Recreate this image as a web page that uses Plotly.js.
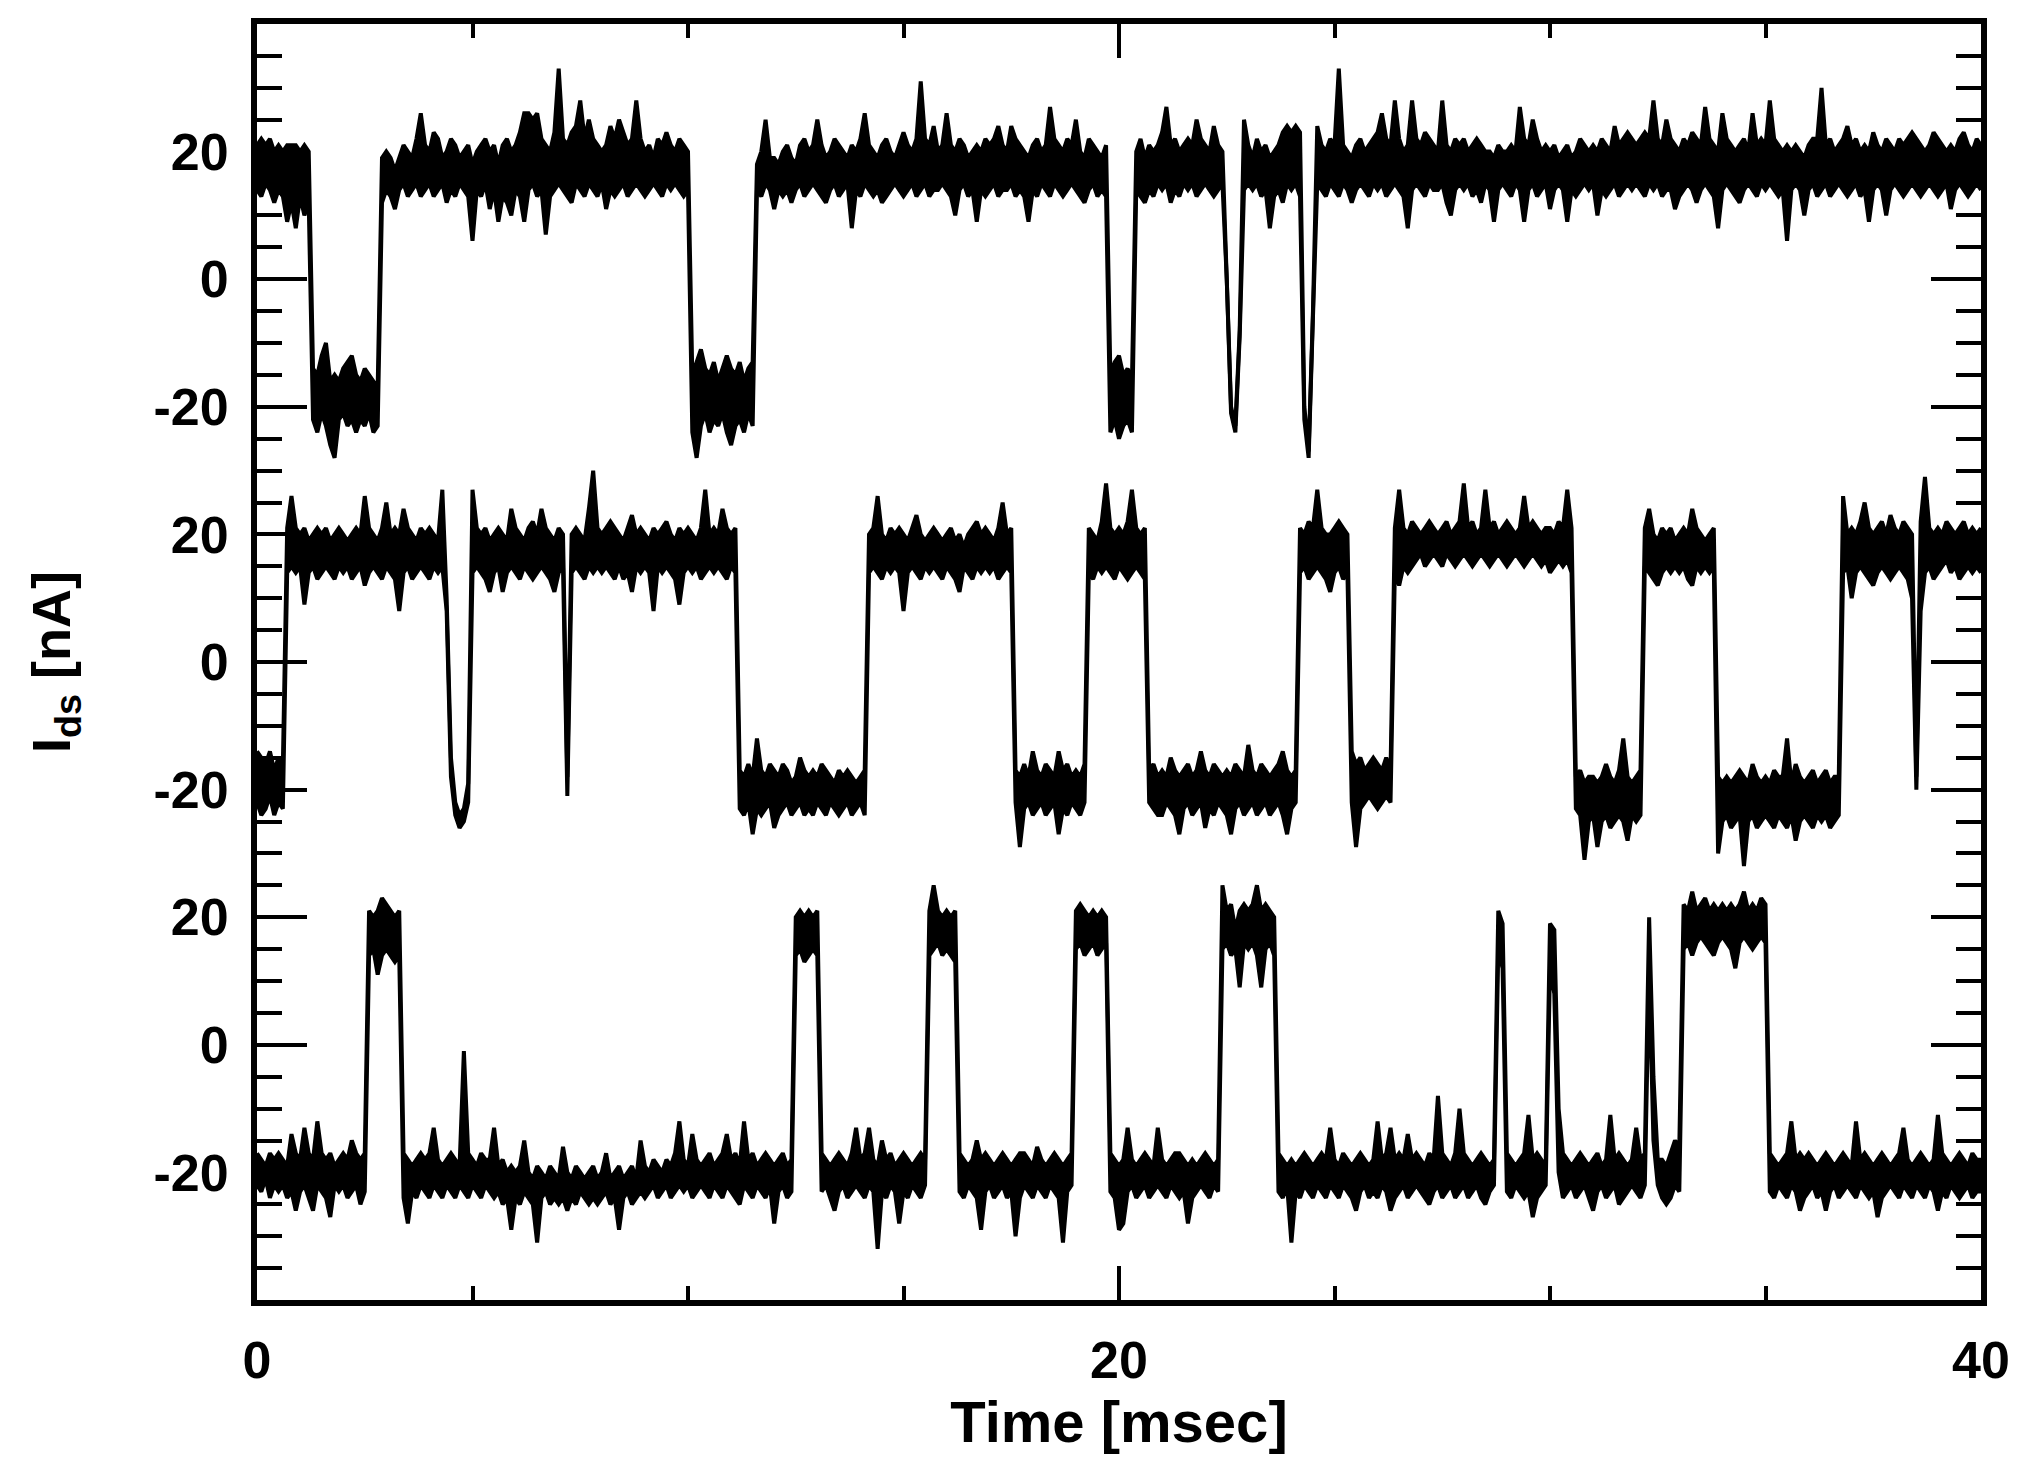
<!DOCTYPE html>
<html>
<head>
<meta charset="utf-8">
<script src="https://cdn.plot.ly/plotly-3.0.1.min.js"></script>
<style>html,body{margin:0;padding:0;background:#fff;}#chart{width:2044px;height:1480px;}</style>
</head>
<body>
<div id="chart"></div>
<script>
// Sampling of the traces (ms)
const sampleStartMs = 0;
const sampleStepMs = 0.1;

// Tick values / labels
const xTickVals = [0, 20, 40];
const xTickText = ['0', '20', '40'];
const yTickVals = [-20, 0, 20];
const yTickText = ['-20', '0', '20'];

// Top trace: upper and lower envelope of the noisy band (nA), one value per 0.1 ms
const topUpper = [
21,22,21,22,20,21,20,21,21,21,
20,21,20,-14,-15,-12,-10,-16,-15,-16,
-14,-13,-12,-15,-16,-14,-15,-16,-17,19,
20,19,17,19,21,20,19,22,26,21,
20,23,22,19,20,22,21,19,20,21,
18,20,21,22,20,21,18,21,22,20,
21,23,26,26,25,26,22,21,20,23,
33,22,21,23,24,28,22,25,22,21,
20,21,24,22,25,23,21,22,28,22,
20,21,19,22,21,23,21,20,22,21,
20,-15,-13,-11,-14,-15,-13,-16,-14,-12,
-14,-15,-13,-16,-14,-13,18,20,25,19,
19,18,20,21,19,18,21,22,20,21,
25,21,19,20,22,21,20,19,21,20,
22,26,21,20,19,21,22,20,19,21,
23,21,20,22,31,22,21,24,20,21,
26,21,20,22,21,19,20,21,20,22,
21,22,24,21,20,24,22,21,20,19,
21,22,20,21,27,22,21,20,22,21,
25,20,19,22,21,20,19,21,-15,-13,
-12,-15,-14,-16,20,22,19,21,20,21,
23,27,21,22,20,21,22,21,25,22,
21,20,24,21,20,0,-20,-23,-8,25,
21,19,22,20,21,19,20,21,23,24,
23,24,23,-20,-27,-5,24,21,20,22,
21,33,21,20,19,21,22,20,21,22,
23,26,22,21,28,22,20,21,28,22,
21,23,22,21,20,28,21,20,22,21,
22,20,21,22,21,20,20,19,21,20,
20,21,20,27,22,21,25,22,20,21,
20,21,19,20,21,19,20,22,21,20,
21,20,22,21,20,24,21,22,23,22,
21,22,23,22,28,22,21,25,22,21,
20,22,21,23,22,21,27,22,21,20,
26,22,21,20,21,22,20,26,21,22,
21,28,22,21,20,21,20,21,20,19,
21,22,22,30,21,22,20,21,22,24,
21,22,20,21,20,23,21,20,22,21,
20,22,21,22,23,22,21,20,21,23,
22,21,20,21,20,22,23,21,20,22,
21];
const topLower = [
14,13,15,14,12,14,13,9,12,8,
13,10,12,-22,-24,-21,-23,-26,-28,-22,
-21,-23,-22,-24,-22,-23,-21,-24,-23,12,
14,13,11,14,15,13,14,15,13,14,
15,13,14,15,12,14,13,15,14,13,
6,14,13,15,11,14,9,13,12,10,
14,13,9,14,15,13,14,7,13,14,
15,14,13,12,15,14,13,15,14,13,
15,11,14,13,14,15,13,14,15,14,
13,14,15,14,13,15,14,15,14,13,
14,-24,-28,-23,-21,-24,-22,-23,-21,-24,
-26,-23,-22,-24,-21,-23,14,13,15,14,
11,14,13,14,12,14,15,13,14,15,
14,13,12,14,15,13,14,15,8,14,
13,15,14,13,14,12,13,14,15,14,
13,14,15,13,14,15,13,14,14,15,
14,13,10,14,15,13,14,9,14,13,
14,15,13,14,14,15,13,14,13,9,
14,13,15,14,13,15,14,13,14,15,
14,13,12,14,15,13,14,13,-24,-22,
-25,-23,-22,-24,14,13,12,14,13,15,
14,15,12,14,13,15,14,15,13,14,
15,14,13,14,15,0,-21,-24,-9,14,
15,14,15,13,14,8,13,14,12,15,
14,15,13,-22,-28,-6,15,14,13,15,
14,13,15,14,12,14,15,14,13,15,
14,15,13,14,15,14,13,8,14,15,
14,13,15,14,14,15,12,10,14,15,
14,15,13,14,12,15,14,9,14,15,
14,13,15,14,9,14,15,13,14,15,
11,14,15,14,9,14,13,14,15,14,
15,10,14,13,14,15,13,14,15,14,
15,14,13,15,14,15,13,14,14,11,
13,14,15,14,12,14,15,14,13,8,
14,15,14,13,12,14,15,14,13,15,
14,15,14,13,14,6,14,15,14,10,
14,15,13,14,15,13,14,15,14,13,
14,15,13,14,9,14,15,14,10,14,
15,14,13,14,15,14,13,14,15,14,
13,14,15,11,14,15,14,13,14,15,
14];

// Middle trace
const midUpper = [
-14,-15,-16,-14,-17,-15,-16,21,26,21,
20,21,19,20,21,20,21,19,20,21,
20,19,20,21,20,26,21,20,19,21,
25,20,21,20,24,21,20,19,21,20,
21,20,19,27,10,-15,-22,-24,-23,-19,
27,21,20,21,19,20,21,20,19,24,
21,20,19,21,22,20,24,21,20,19,
21,20,-18,20,21,20,19,24,30,21,
20,21,22,21,20,19,21,23,20,21,
20,19,21,20,21,22,20,19,21,20,
21,20,19,21,27,20,21,20,24,21,
20,21,-17,-18,-16,-18,-12,-17,-18,-16,
-17,-18,-16,-17,-19,-18,-15,-17,-18,-17,
-18,-16,-17,-18,-19,-17,-18,-17,-18,-19,
-18,-17,20,21,26,20,19,21,20,21,
20,19,21,23,20,19,20,21,20,19,
20,21,19,20,18,20,21,22,20,21,
20,19,21,25,20,21,-17,-18,-16,-18,
-14,-17,-18,-16,-17,-18,-14,-17,-16,-18,
-17,-18,-16,21,20,19,22,28,21,20,
21,20,22,27,21,20,21,-17,-16,-18,
-17,-18,-15,-17,-18,-17,-16,-18,-17,-14,
-17,-18,-16,-17,-18,-17,-18,-16,-17,-18,
-13,-17,-18,-16,-17,-18,-17,-16,-14,-17,
-18,-17,21,20,22,21,27,21,20,20,
21,22,21,20,-14,-16,-15,-17,-16,-15,
-16,-17,-15,-17,21,27,21,20,22,21,
20,21,22,21,20,21,22,20,21,22,
28,21,22,20,21,27,21,22,20,21,
22,21,20,21,26,21,22,21,20,21,
21,20,22,21,27,21,-18,-17,-19,-18,
-18,-19,-18,-16,-18,-19,-17,-12,-18,-19,
-18,-17,21,24,20,19,21,20,21,19,
20,21,20,24,21,20,19,20,21,-18,
-19,-18,-19,-18,-17,-18,-19,-16,-18,-19,
-18,-19,-17,-18,-18,-12,-19,-16,-18,-19,
-18,-17,-19,-18,-17,-19,-18,-18,26,20,
21,20,22,25,21,20,21,22,20,23,
21,20,22,21,20,-18,22,29,21,20,
21,20,22,21,20,21,22,20,21,20,
21];
const midLower = [
-22,-24,-23,-21,-24,-22,-23,14,15,14,
15,9,14,15,13,14,15,14,13,15,
14,15,13,14,15,12,14,15,14,13,
15,14,13,8,14,15,13,14,15,14,
13,15,14,15,8,-18,-24,-26,-25,-22,
14,15,14,13,11,14,15,11,14,15,
14,13,15,14,13,14,15,14,13,11,
14,15,-21,14,15,14,13,15,14,15,
14,15,14,13,15,13,14,11,15,14,
15,14,8,15,14,15,14,13,9,14,
15,14,15,13,14,15,14,15,14,13,
15,14,-23,-24,-22,-27,-23,-24,-23,-22,
-26,-24,-23,-22,-24,-23,-22,-24,-23,-24,
-22,-23,-24,-22,-23,-24,-23,-22,-24,-23,
-22,-24,14,15,14,13,15,14,15,14,
8,14,15,14,13,15,14,15,14,13,
15,14,13,11,15,14,13,15,14,15,
14,15,13,14,15,14,-22,-29,-23,-22,
-24,-23,-22,-24,-23,-22,-27,-23,-24,-22,
-23,-24,-22,14,13,15,14,15,14,13,
15,14,13,14,15,14,13,-22,-23,-24,
-24,-22,-23,-24,-27,-23,-22,-24,-23,-22,
-26,-23,-24,-22,-23,-24,-27,-23,-22,-24,
-23,-22,-24,-23,-22,-24,-23,-22,-24,-27,
-23,-22,14,15,13,14,15,14,13,11,
14,15,13,14,-22,-29,-23,-22,-21,-22,
-23,-22,-21,-22,14,12,15,14,15,16,
17,15,16,17,16,15,17,16,15,16,
17,16,15,16,17,16,15,16,17,16,
15,16,17,16,15,16,17,16,15,16,
14,15,16,15,16,14,-23,-24,-31,-25,
-24,-29,-25,-24,-26,-25,-24,-25,-28,-24,
-25,-24,15,14,13,12,14,15,14,15,
14,15,13,12,15,14,15,14,15,-30,
-25,-24,-26,-25,-24,-32,-25,-24,-26,-25,
-24,-25,-26,-24,-25,-26,-24,-28,-25,-24,
-25,-26,-24,-25,-24,-26,-25,-24,14,15,
10,14,15,14,13,12,14,15,14,13,
14,15,14,13,10,-20,8,14,15,13,
14,15,16,14,15,13,14,15,14,15,
14];

// Bottom trace
const botUpper = [
-17,-18,-19,-17,-18,-17,-18,-19,-14,-17,
-18,-13,-17,-18,-12,-17,-18,-17,-19,-18,
-17,-18,-15,-17,-18,-17,21,20,21,23,
22,21,20,21,-17,-18,-19,-18,-17,-18,
-17,-13,-18,-19,-18,-17,-18,-19,-1,-17,
-18,-19,-17,-18,-18,-13,-19,-18,-20,-19,
-20,-19,-15,-20,-21,-19,-20,-21,-19,-20,
-21,-16,-20,-21,-19,-20,-21,-20,-19,-21,
-20,-17,-21,-20,-19,-21,-20,-19,-21,-15,
-19,-20,-18,-19,-20,-18,-19,-17,-12,-18,
-19,-14,-18,-19,-18,-17,-19,-18,-17,-14,
-18,-17,-19,-12,-18,-17,-19,-18,-17,-18,
-19,-18,-17,-19,-18,20,21,20,21,20,
21,-17,-18,-19,-18,-17,-18,-19,-17,-13,
-18,-17,-13,-18,-19,-15,-18,-17,-19,-18,
-17,-18,-19,-18,-17,-18,21,25,21,20,
21,20,21,-17,-18,-19,-18,-15,-18,-17,
-18,-19,-18,-17,-18,-19,-18,-17,-17,-18,
-19,-16,-18,-19,-18,-17,-18,-19,-18,-17,
21,22,21,20,21,20,21,20,-17,-18,
-19,-18,-13,-18,-19,-18,-17,-18,-19,-13,
-18,-19,-18,-17,-17,-18,-19,-18,-19,-18,
-17,-18,-19,-18,25,21,22,18,21,22,
21,22,25,21,22,21,20,-17,-18,-19,
-18,-19,-18,-17,-18,-19,-18,-17,-18,-13,
-18,-19,-17,-18,-19,-18,-17,-18,-19,-18,
-12,-18,-17,-13,-18,-17,-18,-14,-18,-17,
-18,-19,-17,-18,-8,-17,-18,-19,-17,-10,
-17,-18,-19,-18,-17,-18,-19,-18,21,19,
-17,-18,-19,-18,-17,-11,-18,-17,-18,-19,
19,18,-10,-17,-18,-19,-18,-17,-18,-19,
-18,-17,-19,-18,-11,-18,-17,-18,-19,-18,
-13,-18,-17,20,-5,-18,-18,-19,-17,-15,
-16,22,21,24,21,22,23,21,22,21,
22,21,22,21,22,24,21,22,21,23,
22,-17,-18,-19,-18,-17,-12,-18,-17,-18,
-17,-18,-19,-18,-17,-18,-19,-18,-17,-18,
-19,-12,-18,-17,-18,-19,-18,-17,-18,-19,
-18,-17,-13,-18,-19,-18,-17,-18,-19,-18,
-11,-17,-18,-19,-18,-17,-18,-19,-17,-18,
-18];
const botLower = [
-22,-23,-21,-24,-22,-23,-22,-24,-23,-26,
-23,-22,-24,-26,-22,-23,-24,-27,-22,-23,
-22,-24,-23,-22,-25,-23,14,15,11,14,
15,14,13,14,-24,-28,-23,-24,-22,-23,
-24,-22,-23,-24,-22,-23,-24,-22,-23,-24,
-22,-23,-24,-22,-23,-24,-23,-25,-24,-29,
-24,-25,-23,-24,-25,-31,-24,-23,-25,-24,
-25,-24,-26,-24,-25,-23,-24,-25,-24,-25,
-24,-23,-25,-24,-29,-24,-23,-25,-24,-23,
-24,-23,-22,-24,-23,-22,-24,-23,-22,-23,
-22,-24,-23,-22,-23,-24,-22,-23,-24,-22,
-23,-24,-25,-22,-23,-24,-22,-23,-24,-22,
-28,-23,-22,-24,-23,14,15,13,14,15,
14,-23,-22,-24,-26,-23,-22,-24,-23,-22,
-23,-24,-22,-23,-32,-23,-24,-22,-23,-28,
-23,-24,-22,-23,-24,-22,14,15,16,14,
15,14,13,-23,-24,-22,-23,-24,-29,-23,
-22,-24,-23,-22,-24,-23,-30,-24,-22,-23,
-24,-22,-23,-24,-22,-23,-24,-31,-23,-22,
15,16,14,15,16,14,15,16,-23,-24,
-29,-28,-23,-22,-24,-23,-22,-24,-23,-22,
-23,-24,-22,-23,-24,-23,-28,-24,-23,-22,
-23,-24,-22,-23,15,16,14,15,9,16,
15,16,14,9,15,16,14,-23,-24,-22,
-31,-23,-24,-22,-23,-24,-22,-23,-24,-22,
-23,-24,-22,-23,-24,-26,-23,-22,-24,-23,
-24,-22,-23,-26,-24,-23,-22,-24,-23,-22,
-23,-24,-25,-23,-22,-24,-23,-22,-24,-23,
-22,-24,-23,-22,-24,-25,-23,-22,15,12,
-23,-24,-22,-23,-24,-23,-27,-24,-23,-22,
12,8,-20,-24,-23,-22,-24,-23,-22,-24,
-26,-23,-22,-24,-23,-22,-25,-24,-23,-22,
-23,-24,-22,12,-15,-22,-24,-25,-24,-22,
-23,15,16,14,16,17,16,15,14,16,
17,16,15,12,16,17,16,15,16,17,
16,-23,-24,-22,-23,-24,-22,-23,-26,-24,
-23,-22,-24,-23,-26,-23,-22,-24,-23,-22,
-23,-24,-22,-23,-24,-23,-27,-24,-23,-22,
-23,-24,-22,-23,-24,-22,-23,-24,-22,-23,
-26,-23,-24,-22,-23,-24,-23,-22,-24,-23,
-23];

const FONT = 'Liberation Sans, Arial, sans-serif';
const lineStyle = {color: '#000', width: 4, shape: 'linear'};

function band(upper, lower, axis) {
  return [
    {type: 'scatter', mode: 'lines', x0: sampleStartMs, dx: sampleStepMs, y: upper,
     yaxis: axis, line: lineStyle, hoverinfo: 'skip', showlegend: false},
    {type: 'scatter', mode: 'lines', x0: sampleStartMs, dx: sampleStepMs, y: lower,
     yaxis: axis, line: lineStyle, fill: 'tonexty', fillcolor: '#000',
     hoverinfo: 'skip', showlegend: false}
  ];
}

const data = [].concat(
  band(topUpper, topLower, 'y2'),
  band(midUpper, midLower, 'y'),
  band(botUpper, botLower, 'y3')
);

const tickFont = {family: FONT, size: 52, color: '#000', weight: 'bold'};

function yAxisBase(range) {
  return {
    range: range, fixedrange: true,
    showline: true, linecolor: '#000', linewidth: 6, mirror: 'ticks',
    ticks: 'inside', ticklen: 50, tickwidth: 4, tickcolor: '#000',
    tickvals: yTickVals, ticktext: yTickText,
    tickfont: tickFont, ticklabelstandoff: 12,
    showgrid: false, zeroline: false
  };
}

const yMain = Object.assign(yAxisBase([-100, 100]), {
  minor: {dtick: 5, tick0: 0, ticks: 'inside', ticklen: 25, tickwidth: 4, tickcolor: '#000', showgrid: false},
  title: {text: 'I<sub>ds</sub> [nA]', font: {family: FONT, size: 54, color: '#000', weight: 'bold'}, standoff: 68}
});
const yTop = Object.assign(yAxisBase([-160, 40]), {overlaying: 'y', side: 'left'});
const yBot = Object.assign(yAxisBase([-40, 160]), {overlaying: 'y', side: 'left'});

const layout = {
  width: 2044, height: 1480,
  margin: {l: 257, r: 63, t: 24, b: 180, autoexpand: false},
  paper_bgcolor: '#fff', plot_bgcolor: '#fff',
  showlegend: false,
  xaxis: {
    range: [0, 40], fixedrange: true,
    showline: true, linecolor: '#000', linewidth: 6, mirror: 'ticks',
    ticks: 'inside', ticklen: 34, tickwidth: 4, tickcolor: '#000',
    tickvals: xTickVals, ticktext: xTickText,
    minor: {dtick: 5, tick0: 0, ticks: 'inside', ticklen: 14, tickwidth: 4, tickcolor: '#000', showgrid: false},
    tickfont: tickFont, ticklabelstandoff: 10,
    showgrid: false, zeroline: false,
    title: {text: 'Time [msec]', font: {family: FONT, size: 58, color: '#000', weight: 'bold'}, standoff: 10}
  },
  yaxis: yMain,
  yaxis2: yTop,
  yaxis3: yBot
};

Plotly.newPlot('chart', data, layout, {staticPlot: true, displayModeBar: false});
</script>
</body>
</html>
